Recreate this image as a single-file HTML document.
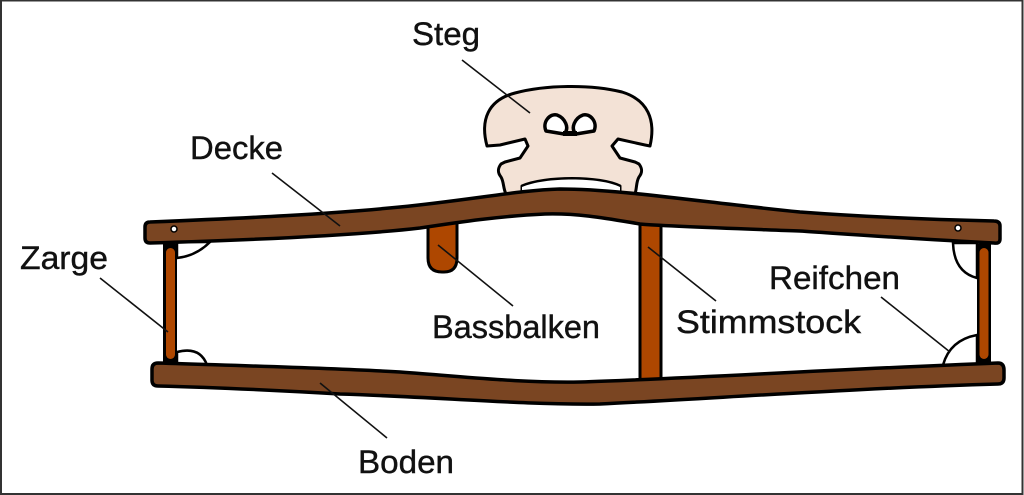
<!DOCTYPE html>
<html>
<head>
<meta charset="utf-8">
<style>
html,body{margin:0;padding:0;background:#fff;}
svg{display:block;}
text{font-family:"Liberation Sans",sans-serif;font-size:32px;fill:#111;stroke:#111;stroke-width:0.4;}
</style>
</head>
<body>
<svg width="1024" height="495" viewBox="0 0 1024 495" xmlns="http://www.w3.org/2000/svg">
<rect x="0" y="0" width="1024" height="495" fill="#fff"/>
<rect x="1" y="0.5" width="1021.5" height="493.5" fill="none" stroke="#333" stroke-width="2"/>

<!-- ribs (Zargen) -->
<rect x="163" y="244" width="14" height="120" fill="#000"/>
<rect x="166" y="248" width="9" height="111" rx="4.5" fill="#ae4700"/>
<rect x="977" y="244" width="14" height="120" fill="#000"/>
<rect x="979.5" y="248" width="9" height="111" rx="4.5" fill="#ae4700"/>

<!-- Reifchen -->
<g fill="#fff" stroke="#000" stroke-width="2.5">
<path d="M177,258 Q196,256 210,242 L177,242 Z"/>
<path d="M177,352 Q200,346 207,365 L177,365 Z"/>
<path d="M953,243 Q954,272 977,278 L977,243 Z"/>
<path d="M943,365 Q950,340 977,335 L977,365 Z"/>
</g>

<!-- Bassbalken -->
<path d="M428,214 L428,258 Q428,272 442,272 L444,272 Q457,272 457,258 L457,214 Z" fill="#ae4700" stroke="#000" stroke-width="3"/>

<!-- Stimmstock -->
<rect x="640" y="222" width="21" height="162" fill="#ae4700" stroke="#000" stroke-width="3"/>
<line x1="661" y1="222" x2="661" y2="384" stroke="#000" stroke-width="3"/>

<!-- Bridge (Steg) -->
<path d="M506,194 C503,188 504,182 501,177 C497,172 498,168 501,164
 L505,162 L520,158 L528,146 L525,139 L500,145 L487,146
 C480,120 488,100 515,93 C545,85 590,84 622,92 C648,100 656,120 650,146
 L645,145 L618,139 L612,146 L620,158 L635,162 L639,164
 C642,168 643,172 639,177 C636,182 637,188 635,194 L620,194 L620,186
 C600,176 545,176 522,186 L522,194 Z"
 fill="#f3e2d6" stroke="#000" stroke-width="3" stroke-linejoin="round"/>
<path d="M522,187 C545,177 600,177 620,187 L620,193 L522,193 Z" fill="#fff" stroke="none"/>
<!-- eyes -->
<path d="M546,131 C542,122 550,113 557,115 C565,118 570,128 564,134 Z" fill="#fff" stroke="#000" stroke-width="3.5" stroke-linejoin="round"/>
<path d="M594,131 C598,122 590,113 583,115 C575,118 570,128 576,134 Z" fill="#fff" stroke="#000" stroke-width="3.5" stroke-linejoin="round"/>
<rect x="563" y="131" width="14" height="5" fill="#000"/>

<!-- Top plate (Decke) -->
<path d="M150,222 C250,218 330,214 400,207 C470,200 520,190 560,189 C620,189 700,202 800,212 C880,218 950,220 994,221 Q1000,221 1000,226 L1000,239 Q1000,244 994,243 C930,240 860,235 800,231 C720,228 660,226 640,224 C610,219 580,213 545,214 C500,216 460,222 420,228 C360,235 250,240 150,243 Q145,243 145,238 L145,227 Q145,222 150,222 Z" fill="#7a4522" stroke="#000" stroke-width="3.5" stroke-linejoin="round"/>
<circle cx="174" cy="229" r="3" fill="#fff" stroke="#000" stroke-width="1.5"/>
<circle cx="958" cy="228" r="3" fill="#fff" stroke="#000" stroke-width="1.5"/>

<!-- Bottom plate (Boden) -->
<path d="M158,363 C250,366 330,368 400,372 C470,377 520,383 580,382 C680,379 820,370 998,363 Q1004,363 1004,370 L1004,378 Q1004,384 998,384 C860,388 720,398 600,404 C520,405 440,397 340,394 C270,390 200,387 158,386 Q152,386 152,380 L152,369 Q152,363 158,363 Z" fill="#7a4522" stroke="#000" stroke-width="3.5" stroke-linejoin="round"/>

<!-- leader lines -->
<g stroke="#111" stroke-width="1.6">
<line x1="462" y1="60" x2="530" y2="113"/>
<line x1="272" y1="173" x2="340" y2="226"/>
<line x1="100" y1="278" x2="168" y2="332"/>
<line x1="438" y1="245" x2="513" y2="306"/>
<line x1="648" y1="247" x2="716" y2="301"/>
<line x1="881" y1="297" x2="950" y2="352"/>
<line x1="320" y1="383" x2="387" y2="438"/>
</g>

<!-- labels -->
<text x="412" y="45" textLength="68" lengthAdjust="spacingAndGlyphs">Steg</text>
<text x="190" y="159" textLength="93" lengthAdjust="spacingAndGlyphs">Decke</text>
<text x="20" y="269" textLength="88" lengthAdjust="spacingAndGlyphs">Zarge</text>
<text x="432" y="338" textLength="168" lengthAdjust="spacingAndGlyphs">Bassbalken</text>
<text x="676" y="333" textLength="185" lengthAdjust="spacingAndGlyphs">Stimmstock</text>
<text x="769" y="289" textLength="131" lengthAdjust="spacingAndGlyphs">Reifchen</text>
<text x="358" y="473" textLength="96" lengthAdjust="spacingAndGlyphs">Boden</text>
</svg>
</body>
</html>
